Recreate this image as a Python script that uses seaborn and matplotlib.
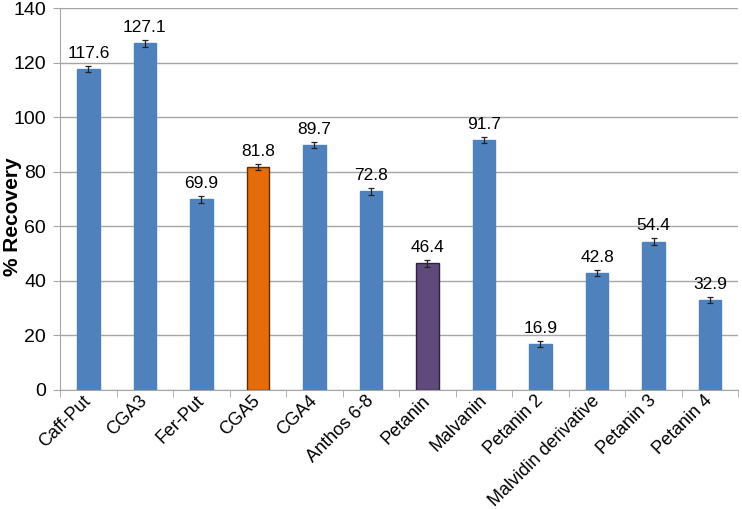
import numpy as np
import pandas as pd
import seaborn as sns
import matplotlib.pyplot as plt
from matplotlib.ticker import FixedLocator

# data
compounds = ["Caff-Put", "CGA3", "Fer-Put", "CGA5", "CGA4", "Anthos 6-8", "Petanin",
             "Malvanin", "Petanin 2", "Malvidin derivative", "Petanin 3", "Petanin 4"]
recovery = [117.6, 127.1, 69.9, 81.8, 89.7, 72.8, 46.4, 91.7, 16.9, 42.8, 54.4, 32.9]
errors = [1.2, 1.3, 1.3, 1.1, 1.1, 1.3, 1.2, 1.1, 1.0, 1.1, 1.3, 1.2]
bar_colors = ["#4F81BD"] * 3 + ["#E46C0A"] + ["#4F81BD"] * 2 + ["#604A7B"] + ["#4F81BD"] * 5
edge_colors = ["#4F81BD"] * 3 + ["#5a2e0a"] + ["#4F81BD"] * 2 + ["#2e2240"] + ["#4F81BD"] * 5

df = pd.DataFrame({"Compound": compounds, "Recovery": recovery})

sns.set_style("white")
plt.rcParams["font.family"] = ["Liberation Sans", "DejaVu Sans"]
plt.rcParams["text.color"] = "black"
plt.rcParams["xtick.color"] = "black"
plt.rcParams["ytick.color"] = "black"

fig = plt.figure(figsize=(7.42, 5.09), dpi=100)
ax = fig.add_axes([0.081, 0.234, 0.914, 0.750])

sns.barplot(data=df, x="Compound", y="Recovery", hue="Compound", palette=bar_colors,
            saturation=1, legend=False, width=0.40, ax=ax, zorder=3)
for patch, ec in zip(ax.patches, edge_colors):
    patch.set_edgecolor(ec)
    patch.set_linewidth(1.0)

x = np.arange(len(compounds))
ax.errorbar(x, recovery, yerr=errors, fmt="none", ecolor="#222222", elinewidth=0.9,
            capsize=2.5, capthick=0.9, zorder=4)

for xi, v, e in zip(x, recovery, errors):
    ax.text(xi, v + e + 3.0, f"{v:.1f}", ha="center", va="baseline", fontsize=12.5, color="black")

ax.set_ylim(0, 140)
ax.set_xlim(-0.5, len(compounds) - 0.5)
ax.set_yticks(range(0, 141, 20))
ax.tick_params(axis="y", labelsize=14, length=5, color="#a6a6a6", left=True, pad=5,
               labelcolor="black")
ax.yaxis.grid(True, color="#a6a6a6", linewidth=1, zorder=0)
ax.set_axisbelow(True)

ax.set_xticks(x)
ax.set_xticklabels(compounds, rotation=45, ha="right", va="center", rotation_mode="anchor",
                   fontsize=13)
ax.tick_params(axis="x", which="major", length=0, pad=6, labelcolor="black")
ax.xaxis.set_minor_locator(FixedLocator(np.arange(-0.5, len(compounds), 1)))
ax.tick_params(axis="x", which="minor", length=5, color="#a6a6a6", bottom=True, direction="out")

ax.set_xlabel("")
ax.set_ylabel("% Recovery", fontsize=15, fontweight="bold", color="black")
ax.yaxis.set_label_coords(-0.056, 0.453)

for side in ["top", "right"]:
    ax.spines[side].set_visible(False)
ax.spines["left"].set_color("#a6a6a6")
ax.spines["bottom"].set_color("#a6a6a6")

fig.savefig("out.png", dpi=100)
